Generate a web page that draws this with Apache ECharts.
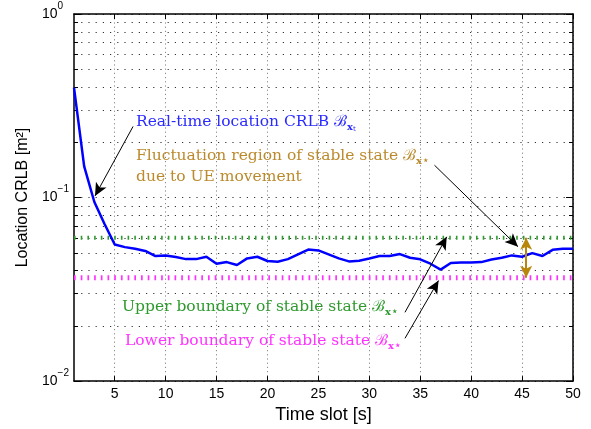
<!DOCTYPE html>
<html>
<head>
<meta charset="utf-8">
<script src="https://cdn.jsdelivr.net/npm/echarts@6/dist/echarts.min.js"></script>
<style>
  html, body { margin: 0; padding: 0; background: #fff; }
  #chart { width: 591px; height: 429px; }
</style>
</head>
<body>
<div id="chart"></div>
<script>
// data
const slots = [
  1, 2, 3, 4, 5, 6, 7, 8, 9, 10, 11, 12, 13, 14, 15, 16, 17, 18, 19, 20, 21, 22, 23, 24, 25,
  26, 27, 28, 29, 30, 31, 32, 33, 34, 35, 36, 37, 38, 39, 40, 41, 42, 43, 44, 45, 46, 47, 48, 49, 50
];
const crlb = [
  0.397, 0.148, 0.0946, 0.0718, 0.0555, 0.0537, 0.0526, 0.0512, 0.0480, 0.0484,
  0.0474, 0.0462, 0.0462, 0.0476, 0.0436, 0.0445, 0.0429, 0.0466, 0.0476, 0.0451,
  0.0447, 0.0462, 0.0490, 0.0521, 0.0515, 0.0490, 0.0466, 0.0449, 0.0453, 0.0466,
  0.0480, 0.0480, 0.0492, 0.0470, 0.0461, 0.0436, 0.0405, 0.0440, 0.0443, 0.0443,
  0.0445, 0.0460, 0.0470, 0.0484, 0.0476, 0.0498, 0.0480, 0.0519, 0.0526, 0.0526
];
const upperBound = 0.0603;
const lowerBound = 0.0366;

const xTicks = [5, 10, 15, 20, 25, 30, 35, 40, 45, 50];
const yMajorTicks = [0.01, 0.1, 1];
const yMinorTicks = [
  0.02, 0.03, 0.04, 0.05, 0.06, 0.07, 0.08, 0.09,
  0.2, 0.3, 0.4, 0.5, 0.6, 0.7, 0.8, 0.9
];

// annotation arrows, in data coordinates [slot, value]
const arrows = [
  [[6.8, 0.244], [3.06, 0.102]],
  [[36.4, 0.150], [44.6, 0.054]],
  [[33.5, 0.0237], [37.6, 0.0611]],
  [[33.5, 0.0171], [36.8, 0.0353]]
];
const fluctuationX = 45.4;

const chart = echarts.init(document.getElementById('chart'));

const sansFont = 'Liberation Sans, Arial, sans-serif';
const serifFont = 'DejaVu Serif, serif';

const gridDots = { color: '#333', width: 1, type: [1.2, 6] };

const supLabel = (v) => {
  const e = Math.round(Math.log10(v));
  return '{b|10}{s|' + String(e).replace('-', '\u2212') + '}';
};

// rich styles for the math bits
const mathRich = (color) => ({
  a: { fontFamily: serifFont, fontSize: 15.5, lineHeight: 21, color: color },
  b: { fontFamily: serifFont, fontSize: 15.5, lineHeight: 21, color: color },
  x: { fontFamily: serifFont, fontSize: 10, fontWeight: 'bold', lineHeight: 8, verticalAlign: 'bottom', color: color },
  t: { fontFamily: serifFont, fontSize: 7, lineHeight: 3, verticalAlign: 'bottom', color: color },
  st: { fontFamily: 'DejaVu Sans, sans-serif', fontSize: 12, lineHeight: 10, verticalAlign: 'bottom', color: color }
});

const textNote = (left, top, text, color) => ({
  type: 'text',
  left: left,
  top: top,
  silent: true,
  style: { text: text, rich: mathRich(color), fill: color }
});

const option = {
  animation: false,
  backgroundColor: '#fff',
  grid: { left: 74, right: 18, top: 14, bottom: 46 },
  xAxis: [
    {
      type: 'value',
      min: 1,
      max: 50,
      position: 'bottom',
      name: 'Time slot [s]',
      nameLocation: 'middle',
      nameGap: 20,
      nameTextStyle: { fontFamily: sansFont, fontSize: 18, color: '#000' },
      axisLine: { lineStyle: { color: '#000', width: 1.5 } },
      axisTick: { inside: true, length: 5, customValues: xTicks, lineStyle: { color: '#000' } },
      axisLabel: { customValues: xTicks, fontFamily: sansFont, fontSize: 14, color: '#000', margin: 6 },
      splitLine: { show: true, lineStyle: { color: '#888', width: 1, type: [1.2, 3] } }
    },
    {
      type: 'value',
      min: 1,
      max: 50,
      position: 'top',
      axisLine: { lineStyle: { color: '#000', width: 1.5 } },
      axisTick: { inside: true, length: 5, customValues: xTicks, lineStyle: { color: '#000' } },
      axisLabel: { show: false },
      splitLine: { show: false }
    }
  ],
  yAxis: [
    {
      type: 'log',
      logBase: 10,
      min: 0.01,
      max: 1,
      position: 'left',
      name: 'Location CRLB [m\u00b2]',
      nameLocation: 'middle',
      nameGap: 43,
      nameTextStyle: { fontFamily: sansFont, fontSize: 16, color: '#000' },
      axisLine: { lineStyle: { color: '#000', width: 1.5 } },
      axisTick: { inside: true, length: 7, customValues: yMajorTicks, lineStyle: { color: '#000' } },
      axisLabel: {
        customValues: yMajorTicks,
        align: 'left',
        margin: 32,
        formatter: supLabel,
        rich: {
          b: { fontFamily: sansFont, fontSize: 14, lineHeight: 26, color: '#000' },
          s: { fontFamily: sansFont, fontSize: 10, lineHeight: 14, verticalAlign: 'top', color: '#000' }
        }
      },
      splitLine: { show: true, lineStyle: gridDots }
    },
    {
      type: 'log',
      logBase: 10,
      min: 0.01,
      max: 1,
      position: 'right',
      axisLine: { lineStyle: { color: '#000', width: 1.5 } },
      axisTick: { inside: true, length: 7, customValues: yMajorTicks, lineStyle: { color: '#000' } },
      axisLabel: { show: false },
      splitLine: { show: false }
    },
    {
      type: 'log',
      logBase: 10,
      min: 0.01,
      max: 1,
      position: 'left',
      axisLine: { show: false },
      axisTick: { inside: true, length: 4, customValues: yMinorTicks, lineStyle: { color: '#000' } },
      axisLabel: { show: false },
      splitLine: { show: true, lineStyle: gridDots }
    },
    {
      type: 'log',
      logBase: 10,
      min: 0.01,
      max: 1,
      position: 'right',
      axisLine: { show: false },
      axisTick: { inside: true, length: 4, customValues: yMinorTicks, lineStyle: { color: '#000' } },
      axisLabel: { show: false },
      splitLine: { show: false }
    }
  ],
  series: [
    {
      name: 'Upper boundary',
      type: 'line',
      symbol: 'none',
      silent: true,
      data: [[slots[0], upperBound], [slots[slots.length - 1], upperBound]],
      lineStyle: { color: '#2e9a2e', width: 4, type: [1.6, 5.1] },
      z: 3
    },
    {
      name: 'Lower boundary',
      type: 'line',
      symbol: 'none',
      silent: true,
      data: [[slots[0], lowerBound], [slots[slots.length - 1], lowerBound]],
      lineStyle: { color: '#ff33ff', width: 5, type: [1.7, 5] },
      z: 3
    },
    {
      name: 'CRLB',
      type: 'line',
      symbol: 'none',
      data: slots.map((s, i) => [s, crlb[i]]),
      lineStyle: { color: '#0000ff', width: 2.5 },
      z: 4,
      markLine: {
        silent: true,
        symbol: ['none', 'arrow'],
        symbolSize: [9, 13],
        label: { show: false },
        lineStyle: { color: '#000', width: 1, type: 'solid' },
        data: arrows.map((a) => [{ coord: a[0] }, { coord: a[1] }])
      }
    },
    {
      name: 'Fluctuation',
      type: 'line',
      symbol: 'none',
      data: [],
      z: 5,
      markLine: {
        silent: true,
        symbol: ['arrow', 'arrow'],
        symbolSize: [9, 12],
        label: { show: false },
        lineStyle: { color: '#b8860b', width: 2, type: 'solid' },
        data: [[{ coord: [fluctuationX, upperBound] }, { coord: [fluctuationX, lowerBound] }]]
      }
    }
  ],
  graphic: [
    textNote(136, 114, '{a|Real-time location CRLB }{b|\u212c}{x|x}{t|t}', '#2b2bff'),
    textNote(136, 148, '{a|Fluctuation region of stable state }{b|\u212c}{x|x}{st|\u22c6}\n{a|due to UE movement}', '#bb8a2d'),
    textNote(122, 299, '{a|Upper boundary of stable state }{b|\u212c}{x|x}{st|\u22c6}', '#2e9a2e'),
    textNote(125, 333, '{a|Lower boundary of stable state }{b|\u212c}{x|x}{st|\u22c6}', '#ff33ff')
  ]
};

chart.setOption(option);
</script>
</body>
</html>
